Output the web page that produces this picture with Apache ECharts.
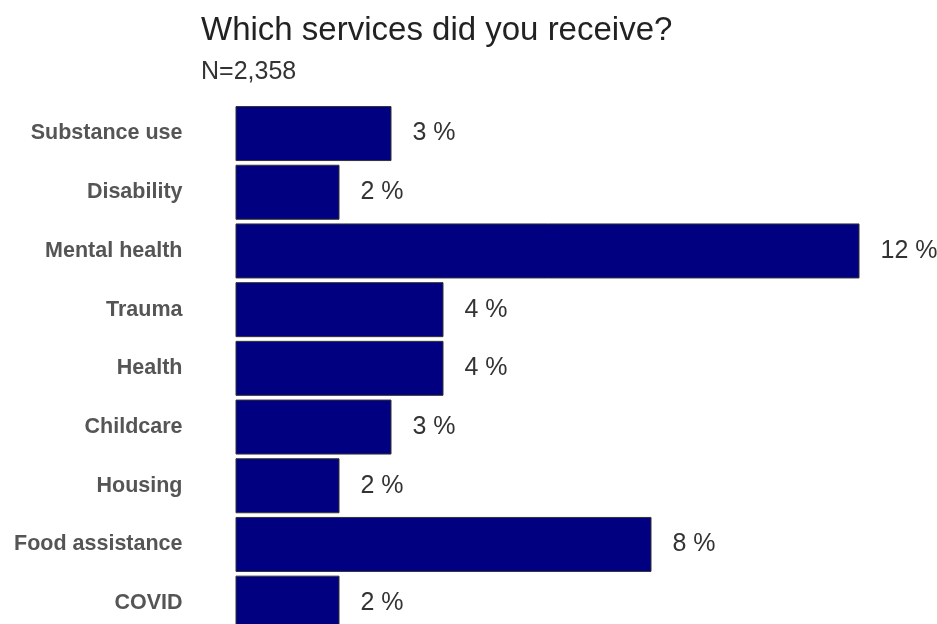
<!DOCTYPE html>
<html>
<head>
<meta charset="utf-8">
<script src="https://cdn.jsdelivr.net/npm/echarts@6/dist/echarts.min.js"></script>
<style>
  html, body { margin: 0; padding: 0; background: #ffffff; overflow: hidden; }
  /* canvas is a little taller than the window so the last row is cropped */
  #chart { width: 937px; height: 640px; }
</style>
</head>
<body>
<div id="chart"></div>
<script>
// Services received, share of respondents (%)
const categories = [
  'Substance use', 'Disability', 'Mental health', 'Trauma', 'Health',
  'Childcare', 'Housing', 'Food assistance', 'COVID'
];
const percentages = [3, 2, 12, 4, 4, 3, 2, 8, 2];

const titleText = 'Which services did you receive?';
const subtitleText = 'N=2,358';

const chart = echarts.init(document.getElementById('chart'), null, { renderer: 'canvas' });

chart.setOption({
  backgroundColor: '#ffffff',
  animation: false,
  title: [
    {
      text: titleText,
      left: 196,
      top: 9,
      textStyle: { fontFamily: 'Liberation Sans, Arial, sans-serif', fontSize: 33, fontWeight: 'normal', color: '#222222' }
    },
    {
      text: subtitleText,
      left: 196,
      top: 55,
      textStyle: { fontFamily: 'Liberation Sans, Arial, sans-serif', fontSize: 25, fontWeight: 'normal', color: '#333333' }
    }
  ],
  grid: {
    left: 235.5,
    width: 624,
    top: 104.2,
    height: 528.3,
    containLabel: false
  },
  xAxis: {
    type: 'value',
    min: 0,
    max: 12,
    show: false
  },
  yAxis: {
    type: 'category',
    data: categories,
    inverse: true,
    axisLine: { show: false },
    axisTick: { show: false },
    splitLine: { show: false },
    axisLabel: {
      margin: 53,
      fontFamily: 'Liberation Sans, Arial, sans-serif',
      fontSize: 21.5,
      fontWeight: 'bold',
      color: '#555555'
    }
  },
  series: [
    {
      type: 'bar',
      data: percentages,
      barCategoryGap: '6.3%',
      itemStyle: {
        color: '#000080',
        borderColor: '#333333',
        borderWidth: 1
      },
      label: {
        show: true,
        position: 'right',
        distance: 21,
        formatter: '{c} %',
        fontFamily: 'Liberation Sans, Arial, sans-serif',
        fontSize: 25,
        color: '#333333'
      }
    }
  ]
});
</script>
</body>
</html>
